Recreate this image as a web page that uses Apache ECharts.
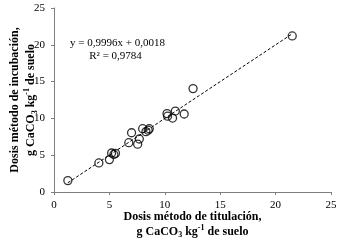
<!DOCTYPE html>
<html>
<head>
<meta charset="utf-8">
<script src="https://cdn.jsdelivr.net/npm/echarts@6/dist/echarts.min.js"></script>
<style>
html, body { margin: 0; padding: 0; background: #fff; }
#chart { width: 344px; height: 245px; }
</style>
</head>
<body>
<div id="chart"></div>
<script>
// dosis titulación (x) vs dosis incubación (y), g CaCO3 kg-1
var titulacion = [1.25, 4.05, 5.0, 5.2, 5.55, 5.4, 6.75, 7.0, 7.55, 7.7, 8.0, 8.3, 8.5, 8.6, 10.2, 10.25, 10.7, 10.95, 11.75, 12.55, 21.5];
var incubacion = [1.55, 3.95, 4.4, 5.3, 5.25, 5.1, 6.7, 8.05, 6.5, 7.2, 8.6, 8.2, 8.4, 8.6, 10.65, 10.3, 10.05, 11.0, 10.6, 14.05, 21.2];
var pendiente = 0.9996;
var intercepto = 0.0018;

var chart = echarts.init(document.getElementById('chart'));
var pts = titulacion.map(function (x, i) { return [x, incubacion[i]]; });
var xMin = Math.min.apply(Math, titulacion);
var xMax = Math.max.apply(Math, titulacion);
var trend = [[xMin, pendiente * xMin + intercepto], [xMax, pendiente * xMax + intercepto]];

var serif = 'Liberation Serif';
var rich = {
    b: { fontFamily: serif, fontWeight: 'bold', fontSize: 12, color: '#000' },
    sub: { fontFamily: serif, fontWeight: 'bold', fontSize: 8, color: '#000', verticalAlign: 'bottom', padding: [4, 0, 0, 0] },
    sup: { fontFamily: serif, fontWeight: 'bold', fontSize: 8, color: '#000', verticalAlign: 'top', padding: [0, 0, 4, 0] }
};

var axisLine = { show: true, lineStyle: { color: '#7f7f7f', width: 1 } };

var option = {
    animation: false,
    backgroundColor: '#fff',
    grid: { left: 54, right: 13, top: 8, bottom: 53, containLabel: false, outerBoundsMode: 'none' },
    xAxis: {
        type: 'value',
        min: 0, max: 25, interval: 5,
        axisLine: axisLine,
        axisTick: { show: true, length: 3, lineStyle: { color: '#7f7f7f' } },
        splitLine: { show: false },
        axisLabel: { fontFamily: serif, fontSize: 11, color: '#000', margin: 8 },
        name: '{b|Dosis método de titulación,}\n{b|g CaCO}{sub|3}{b| kg}{sup|-1}{b| de suelo}',
        nameLocation: 'middle',
        nameMoveOverlap: false,
        nameGap: 17,
        nameTextStyle: { rich: rich, lineHeight: 15 }
    },
    yAxis: {
        type: 'value',
        min: 0, max: 25, interval: 5,
        axisLine: axisLine,
        axisTick: { show: true, length: 3, lineStyle: { color: '#7f7f7f' } },
        splitLine: { show: false },
        axisLabel: { fontFamily: serif, fontSize: 11, color: '#000', margin: 9 },
        name: '{b|Dosis método de incubación,}\n{b|g CaCO}{sub|3}{b| kg}{sup|-1}{b| de suelo}',
        nameLocation: 'middle',
        nameMoveOverlap: false,
        nameRotate: 90,
        nameGap: 15,
        nameTextStyle: { rich: rich, lineHeight: 16 }
    },
    graphic: [{
        type: 'text',
        left: 70, top: 37,
        style: {
            text: 'y = 0,9996x + 0,0018\n       R² = 0,9784',
            font: '11px "Liberation Serif"',
            fill: '#000',
            lineHeight: 13
        }
    }],
    series: [
        {
            type: 'line',
            data: trend,
            symbol: 'none',
            lineStyle: { color: '#000', width: 1, type: [3, 2] },
            z: 1
        },
        {
            type: 'scatter',
            data: pts,
            symbol: 'circle',
            symbolSize: 8,
            itemStyle: { color: 'rgba(255,255,255,0)', borderColor: '#000', borderWidth: 1.3 },
            z: 2
        }
    ]
};
chart.setOption(option);
</script>
</body>
</html>
